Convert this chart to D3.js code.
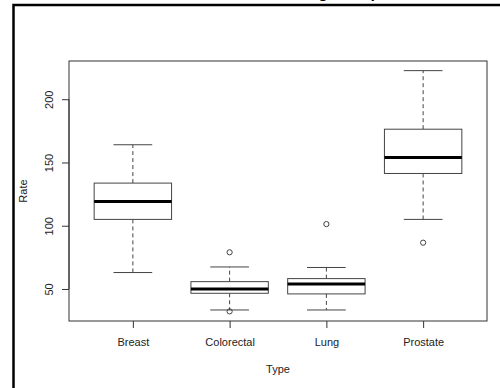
<!DOCTYPE html>
<html>
<head>
<meta charset="utf-8">
<script src="https://cdn.jsdelivr.net/npm/d3@7"></script>
<style>
    body { margin: 0; background: #fff; }
    text { font-family: "Liberation Sans", Arial, sans-serif; }
</style>
</head>
<body>
<svg id="chart" width="500" height="388"></svg>
<script>
// cancer types on the x axis
const types = ["Breast", "Colorectal", "Lung", "Prostate"];
// five number summary for every box (lower whisker, Q1, median, Q3, upper whisker)
const lowWhisker = [63, 33.4, 33.4, 105];
const q1 = [105, 46.6, 46.1, 141.3];
const median = [119.2, 50, 54, 154];
const q3 = [133.7, 55.8, 58.2, 176.3];
const highWhisker = [164, 67.4, 67, 222.6];
// points outside the whiskers
const outliers = [[], [79, 32.3], [101.3], [86.6]];
// y axis ticks
const yTicks = [50, 100, 150, 200];

// plot region (window.top is taken, so plotTop etc)
const plotLeft = 69, plotRight = 487, plotTop = 61, plotBottom = 321;

let svg = d3.select("#chart");

// the black frame that runs off the picture
svg.append("rect")
    .attr("x", 13.5).attr("y", 5)
    .attr("width", 600).attr("height", 500)
    .attr("fill", "none")
    .attr("stroke", "#000")
    .attr("stroke-width", 2.5);

// title, mostly cut off at the top
svg.append("text")
    .attr("x", 278).attr("y", -2.5)
    .attr("text-anchor", "middle")
    .attr("font-weight", "bold")
    .attr("font-size", "16px")
    .text("Cancer Rates Among Groups");

// y range padded 4% like R does
let all = lowWhisker.concat(highWhisker, outliers.flat());
let lo = d3.min(all), hi = d3.max(all), pad = (hi - lo) * 0.04;

let yScale = d3.scaleLinear()
    .domain([lo - pad, hi + pad])
    .range([plotBottom, plotTop]);

// boxes sit at 1..4, axis goes 0.5..4.5 plus 4%
let xScale = d3.scaleLinear()
    .domain([0.34, 4.66])
    .range([plotLeft, plotRight]);

const boxW = xScale(1.4) - xScale(1);
const stapleW = xScale(1.2) - xScale(1);
const lineCol = "#444";

let g = svg.append("g");

types.forEach((t, i) => {
    let cx = xScale(i + 1);
    // dashed whiskers
    g.append("line")
        .attr("x1", cx).attr("x2", cx)
        .attr("y1", yScale(q3[i])).attr("y2", yScale(highWhisker[i]))
        .attr("stroke", lineCol).attr("stroke-dasharray", "4,3");
    g.append("line")
        .attr("x1", cx).attr("x2", cx)
        .attr("y1", yScale(q1[i])).attr("y2", yScale(lowWhisker[i]))
        .attr("stroke", lineCol).attr("stroke-dasharray", "4,3");
    // staples
    [lowWhisker[i], highWhisker[i]].forEach(v => {
        g.append("line")
            .attr("x1", cx - stapleW).attr("x2", cx + stapleW)
            .attr("y1", yScale(v)).attr("y2", yScale(v))
            .attr("stroke", lineCol);
    });
    // the box
    g.append("rect")
        .attr("x", cx - boxW).attr("y", yScale(q3[i]))
        .attr("width", boxW * 2)
        .attr("height", yScale(q1[i]) - yScale(q3[i]))
        .attr("fill", "#fff")
        .attr("stroke", lineCol);
    // thick median
    g.append("line")
        .attr("x1", cx - boxW).attr("x2", cx + boxW)
        .attr("y1", yScale(median[i])).attr("y2", yScale(median[i]))
        .attr("stroke", "#000").attr("stroke-width", 3);
    // outliers as open circles
    g.selectAll(null)
        .data(outliers[i])
        .enter()
        .append("circle")
        .attr("cx", cx).attr("cy", d => yScale(d))
        .attr("r", 2.6)
        .attr("fill", "none")
        .attr("stroke", lineCol);
});

// box round the plot
svg.append("rect")
    .attr("x", plotLeft).attr("y", plotTop)
    .attr("width", plotRight - plotLeft).attr("height", plotBottom - plotTop)
    .attr("fill", "none")
    .attr("stroke", "#333");

// x axis with type names
let xAxis = d3.axisBottom(xScale)
    .tickValues([1, 2, 3, 4])
    .tickFormat(d => types[d - 1])
    .tickSize(7).tickSizeOuter(0).tickPadding(10);

let xg = svg.append("g")
    .attr("transform", `translate(0, ${plotBottom})`)
    .call(xAxis);
xg.select(".domain").remove();
xg.selectAll("line").attr("stroke", "#333");
xg.selectAll("text").attr("font-size", "11px").attr("fill", "#222");
xg.attr("font-family", null);

// y axis with rotated numbers
let yAxis = d3.axisLeft(yScale)
    .tickValues(yTicks)
    .tickSize(7).tickSizeOuter(0);

let yg = svg.append("g")
    .attr("transform", `translate(${plotLeft}, 0)`)
    .call(yAxis);
yg.attr("font-family", null);
yg.select(".domain")
    .attr("d", `M0,${yScale(50)}V${yScale(200)}`)
    .attr("stroke", "#333");
yg.selectAll("line").attr("stroke", "#333");
yg.selectAll("text")
    .attr("transform", "rotate(-90)")
    .attr("x", 0).attr("y", -16).attr("dy", null)
    .attr("text-anchor", "middle")
    .attr("font-size", "11px").attr("fill", "#222");

// axis titles
svg.append("text")
    .attr("x", (plotLeft + plotRight) / 2).attr("y", 373)
    .attr("text-anchor", "middle")
    .attr("font-size", "11px").attr("fill", "#222")
    .text("Type");

svg.append("text")
    .attr("transform", `translate(27, ${(plotTop + plotBottom) / 2}) rotate(-90)`)
    .attr("text-anchor", "middle")
    .attr("font-size", "11px").attr("fill", "#222")
    .text("Rate");
</script>
</body>
</html>
